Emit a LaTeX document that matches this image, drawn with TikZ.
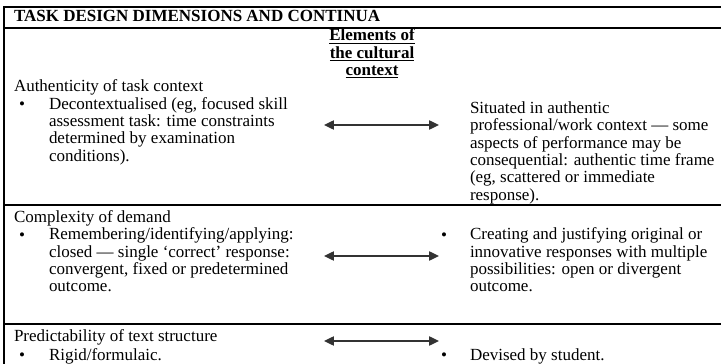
\documentclass[tikz,border=0pt]{standalone}
\usepackage{fontspec}
\setmainfont{Liberation Serif}
\usetikzlibrary{arrows.meta}

\begin{document}
\begin{tikzpicture}[y=0.706pt, x=0.706pt, yscale=-1, inner sep=0pt, outer sep=0pt,
  rule/.style={draw=black, line width=1.06pt, line cap=rect},
  txt/.style={font=\fontsize{12}{12.2}\selectfont, align=left},
  bold/.style={font=\fontsize{12}{12.2}\selectfont\bfseries},
  both/.style={draw=black!80, line width=1.06pt,
    {Triangle[length=7pt,width=6.5pt]}-{Triangle[length=7pt,width=6.5pt]}}]
\useasboundingbox (0,0) rectangle (721,364);
  % table rules
  \path[rule] (4.0,7.0) -- (721.0,7.0);
  \path[rule] (4.0,28.0) -- (721.0,28.0);
  \path[rule] (4.0,205.0) -- (721.0,205.0);
  \path[rule] (4.0,324.0) -- (721.0,324.0);
  \path[rule] (4.0,7.0) -- (4.0,366.0);
  % heading row
  \path (14.0,22.0) node[bold, anchor=base west] (text-title)
    {TASK DESIGN DIMENSIONS AND CONTINUA};
  \path (372.0,28.9) node[bold, anchor=north, align=center] (text-elements)
    {\strut\underline{Elements of}\\\underline{the cultural}\\\underline{context}};
  % authenticity
  \path (14.0,92.0) node[txt, anchor=base west] (text-auth) {Authenticity of task context};
  \path (22.0,109.3) node[txt, anchor=base] (bullet-auth) {\textbullet};
  \path (49.0,97.2) node[txt, anchor=north west] (text-auth-a)
    {\strut Decontextualised (eg, focused skill\\assessment task: time constraints\\
     determined by examination\\conditions).};
  \path (470.0,101.6) node[txt, anchor=north west] (text-auth-b)
    {\strut Situated in authentic\\professional/work context --- some\\
     aspects of performance may be\\consequential: authentic time frame\\
     (eg, scattered or immediate\\response).};
  \coordinate (arrow-auth-l) at (324.0,125.0);
  \coordinate (arrow-auth-r) at (439.0,125.0);
  \draw[both] (arrow-auth-l) -- (arrow-auth-r);
  % complexity
  \path (14.0,222.5) node[txt, anchor=base west] (text-comp) {Complexity of demand};
  \path (22.0,240.0) node[txt, anchor=base] (bullet-comp-a) {\textbullet};
  \path (49.0,227.9) node[txt, anchor=north west] (text-comp-a)
    {\strut Remembering/identifying/applying:\\closed --- single `correct' response:\\
     convergent, fixed or predetermined\\outcome.};
  \path (444.0,240.0) node[txt, anchor=base] (bullet-comp-b) {\textbullet};
  \path (470.0,227.9) node[txt, anchor=north west] (text-comp-b)
    {\strut Creating and justifying original or\\innovative responses with multiple\\
     possibilities: open or divergent\\outcome.};
  \coordinate (arrow-comp-l) at (324.0,256.0);
  \coordinate (arrow-comp-r) at (439.0,256.0);
  \draw[both] (arrow-comp-l) -- (arrow-comp-r);
  % predictability
  \path (14.0,341.5) node[txt, anchor=base west] (text-pred) {Predictability of text structure};
  \path (22.0,360.5) node[txt, anchor=base] (bullet-pred-a) {\textbullet};
  \path (49.0,360.5) node[txt, anchor=base west] (text-pred-a) {Rigid/formulaic.};
  \path (444.0,360.5) node[txt, anchor=base] (bullet-pred-b) {\textbullet};
  \path (470.0,360.5) node[txt, anchor=base west] (text-pred-b) {Devised by student.};
  \coordinate (arrow-pred-l) at (324.0,341.0);
  \coordinate (arrow-pred-r) at (439.0,341.0);
  \draw[both] (arrow-pred-l) -- (arrow-pred-r);
\end{tikzpicture}
\end{document}
